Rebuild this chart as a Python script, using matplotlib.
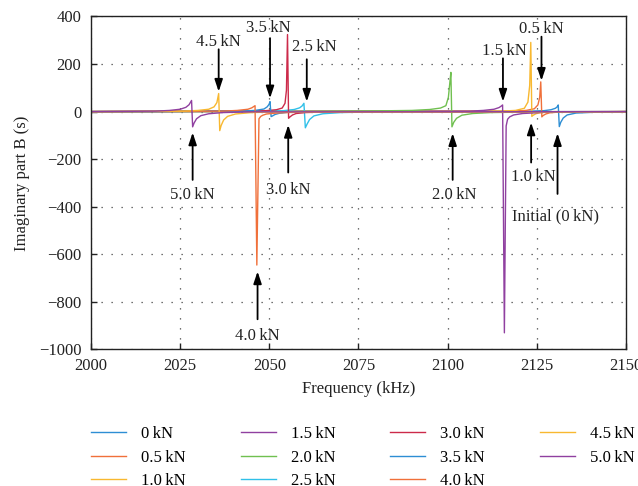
import matplotlib
matplotlib.use("Agg")
import matplotlib.pyplot as plt

plt.rcParams["font.family"] = ["Liberation Serif", "DejaVu Serif"]
plt.rcParams["font.size"] = 12

# frequency (kHz) and imaginary part B for each load
freq_0 = [2000, 2123, 2127, 2129, 2130.2, 2130.7, 2131.0, 2131.3, 2131.7, 2132.4, 2133.5, 2136, 2142, 2150]
b_0 = [0, 2, 4, 8, 14, 20, 28, -63, -45, -27, -14, -6, -2, 0]

freq_05 = [2000, 2118, 2122, 2124.3, 2125.3, 2125.8, 2126.1, 2126.4, 2126.8, 2127.5, 2128.6, 2131, 2137, 2150]
b_05 = [0, 2, 5, 12, 28, 60, 125, -22, -16, -10, -5, -2, -1, 0]

freq_10 = [2000, 2115, 2119, 2121.5, 2122.5, 2123.0, 2123.3, 2123.6, 2124.0, 2124.7, 2125.8, 2128, 2134, 2150]
b_10 = [0, 2, 5, 14, 40, 110, 291, -20, -15, -9, -5, -2, -1, 0]

freq_15 = [2000, 2106, 2110, 2113, 2114.4, 2115.0, 2115.4, 2115.9, 2116.4, 2116.8, 2117.4, 2118.5, 2121, 2127, 2150]
b_15 = [0, 2, 5, 10, 17, 23, 28, -930, -60, -32, -22, -14, -8, -3, 0]

freq_20 = [2000, 2060, 2080, 2090, 2095, 2098, 2099.5, 2100.2, 2100.6, 2100.9, 2101.2, 2101.7, 2102.5, 2104, 2107, 2112, 2125, 2150]
b_20 = [0, 1, 3, 5, 9, 15, 25, 60, 120, 165, -64, -45, -28, -15, -8, -4, -1, 0]

freq_25 = [2000, 2050, 2054, 2057, 2058.5, 2059.2, 2059.7, 2060.1, 2060.6, 2061.3, 2062.5, 2065, 2070, 2080, 2150]
b_25 = [0, 2, 4, 9, 16, 24, 35, -68, -52, -33, -18, -9, -4, -1, 0]

freq_30 = [2000, 2044, 2049, 2052, 2053.6, 2054.4, 2054.8, 2055.1, 2055.4, 2055.8, 2056.5, 2057.5, 2060, 2066, 2150]
b_30 = [0, 2, 4, 8, 15, 35, 90, 324, -28, -22, -14, -8, -4, -1, 0]

freq_35 = [2000, 2042, 2046, 2048.5, 2049.4, 2049.9, 2050.2, 2050.5, 2050.9, 2051.6, 2052.8, 2055, 2060, 2150]
b_35 = [0, 2, 5, 11, 20, 30, 42, -21, -18, -12, -7, -3, -1, 0]

freq_40 = [2000, 2037, 2041, 2044, 2045.1, 2045.6, 2046.0, 2046.5, 2047.1, 2047.6, 2048.2, 2049.2, 2052, 2058, 2150]
b_40 = [0, 2, 5, 10, 16, 21, 25, -645, -30, -20, -15, -10, -6, -2, 0]

freq_45 = [2000, 2026, 2030, 2033, 2034.5, 2035.3, 2035.8, 2036.1, 2036.5, 2037.2, 2038.3, 2040.5, 2045, 2052, 2150]
b_45 = [0, 2, 5, 10, 20, 38, 76, -80, -58, -35, -20, -10, -4, -1, 0]

freq_50 = [2000, 2018, 2022, 2025, 2026.6, 2027.5, 2028.2, 2028.5, 2028.9, 2029.6, 2030.8, 2033, 2037, 2045, 2150]
b_50 = [0, 2, 5, 10, 18, 29, 47, -64, -48, -30, -17, -9, -4, -1, 0]

T = "\u2009"
labels = ["0" + T + "kN", "0.5" + T + "kN", "1.0" + T + "kN", "1.5" + T + "kN",
          "2.0" + T + "kN", "2.5" + T + "kN", "3.0" + T + "kN", "3.5" + T + "kN",
          "4.0" + T + "kN", "4.5" + T + "kN", "5.0" + T + "kN"]
freqs = [freq_0, freq_05, freq_10, freq_15, freq_20, freq_25, freq_30, freq_35, freq_40, freq_45, freq_50]
values = [b_0, b_05, b_10, b_15, b_20, b_25, b_30, b_35, b_40, b_45, b_50]

colors = ["#2d8ed4", "#f0703a", "#f8b830", "#9040a0", "#70c050", "#30c0e8",
          "#cc2a4a", "#2d8ed4", "#f0703a", "#f8b830", "#9040a0"]

# (text, arrow x, arrow tail y, arrow tip y, text x, text y, ha)
notes = [
    ("4.5" + T + "kN", 2035.8, 262, 84, 2035.6, 294, "center"),
    ("3.5" + T + "kN", 2050.2, 309, 56, 2049.6, 350, "center"),
    ("2.5" + T + "kN", 2060.5, 220, 42, 2062.5, 273, "center"),
    ("5.0" + T + "kN", 2028.5, -287, -88, 2028.5, -350, "center"),
    ("3.0" + T + "kN", 2055.3, -256, -56, 2055.3, -329, "center"),
    ("4.0" + T + "kN", 2046.7, -873, -672, 2046.7, -943, "center"),
    ("2.0" + T + "kN", 2101.4, -287, -91, 2101.8, -350, "center"),
    ("1.5" + T + "kN", 2115.5, 224, 42, 2115.8, 256, "center"),
    ("0.5" + T + "kN", 2126.3, 315, 130, 2126.2, 347, "center"),
    ("1.0" + T + "kN", 2123.4, -214, -46, 2123.9, -273, "center"),
    ("Initial (0" + T + "kN)", 2130.8, -346, -91, 2117.9, -441, "left"),
]

fig = plt.figure(figsize=(6.38, 4.86), dpi=100)
ax = fig.add_axes([0.1426, 0.2809, 0.8386, 0.6852])

for f, b, lab, c in zip(freqs, values, labels, colors):
    ax.plot(f, b, color=c, lw=1.0, label=lab)

ax.set_xlim(2000, 2150)
ax.set_ylim(-1000, 400)
ax.set_xticks([2000, 2025, 2050, 2075, 2100, 2125, 2150])
ax.set_yticks([-1000, -800, -600, -400, -200, 0, 200, 400])
ax.grid(True, color="#444444", lw=0.9, linestyle=(0, (1, 7)))
ax.tick_params(direction="in", length=4, width=1, colors="#222222", labelcolor="#222222")
ax.tick_params(axis="y", pad=7)
ax.tick_params(axis="x", pad=6)
for s in ax.spines.values():
    s.set_linewidth(1.0)
    s.set_color("#222222")

ax.set_xlabel("Frequency (kHz)", labelpad=5, color="#222222")
ax.set_ylabel("Imaginary part B (s)", labelpad=6, color="#222222")

for text, ax_x, tail, tip, tx, ty, ha in notes:
    ax.annotate("", xy=(ax_x, tip), xytext=(ax_x, tail),
                arrowprops=dict(arrowstyle="-|>,head_length=0.6,head_width=0.2",
                                color="black", lw=1.3, mutation_scale=12,
                                shrinkA=0, shrinkB=0))
    ax.text(tx, ty, text, ha=ha, va="center", color="#222222", fontsize=12)

fig.legend(loc="upper left", bbox_to_anchor=(0.1426, 0.123), ncol=4, frameon=False,
           borderpad=0, borderaxespad=0, handlelength=2.1, handletextpad=0.9,
           columnspacing=3.3, labelspacing=0.45, fontsize=12)

fig.savefig("out.png", dpi=100)
